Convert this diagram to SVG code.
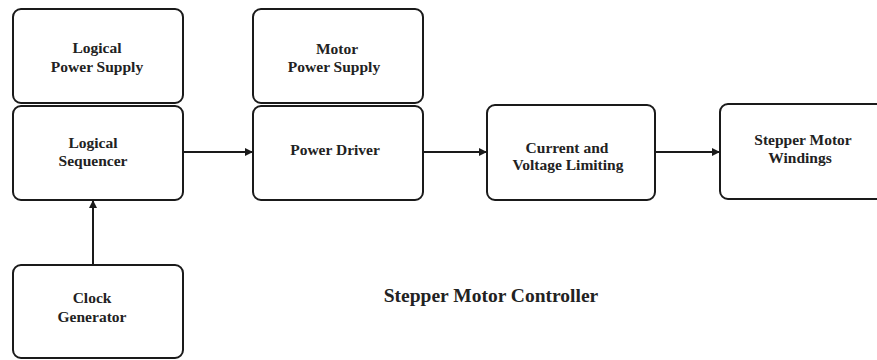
<svg xmlns="http://www.w3.org/2000/svg" width="877" height="360" viewBox="0 0 877 360">
<style>
.box{fill:#fff;stroke:#1a1a1a;stroke-width:2}
.c{stroke:#1a1a1a;stroke-width:2;fill:none;marker-end:url(#ah)}
</style>
<defs>
<marker id="ah" viewBox="0 0 10 10" refX="10" refY="5" markerWidth="4" markerHeight="4" orient="auto" markerUnits="strokeWidth">
<path d="M0,0 L10,5 L0,10 z" fill="#1a1a1a"/>
</marker>
</defs>
<rect width="877" height="360" fill="#fff"/>
<g id="logical-power-supply">
<rect class="box" x="13" y="9" width="170" height="94" rx="8"/>
<text font-family="Liberation Serif" font-weight="bold" font-size="15.5" fill="#222" text-anchor="middle" x="97" y="53">Logical</text>
<text font-family="Liberation Serif" font-weight="bold" font-size="15.5" fill="#222" text-anchor="middle" x="97" y="72">Power Supply</text>
</g>
<g id="logical-sequencer">
<rect class="box" x="13" y="106" width="170" height="94" rx="8"/>
<text font-family="Liberation Serif" font-weight="bold" font-size="15.5" fill="#222" text-anchor="middle" x="93" y="148">Logical</text>
<text font-family="Liberation Serif" font-weight="bold" font-size="15.5" fill="#222" text-anchor="middle" x="93" y="166">Sequencer</text>
</g>
<g id="motor-power-supply">
<rect class="box" x="253" y="9" width="170" height="94" rx="8"/>
<text font-family="Liberation Serif" font-weight="bold" font-size="15.5" fill="#222" text-anchor="middle" x="337" y="54">Motor</text>
<text font-family="Liberation Serif" font-weight="bold" font-size="15.5" fill="#222" text-anchor="middle" x="334" y="72">Power Supply</text>
</g>
<g id="power-driver">
<rect class="box" x="253" y="106" width="170" height="94" rx="8"/>
<text font-family="Liberation Serif" font-weight="bold" font-size="15.5" fill="#222" text-anchor="middle" x="335" y="155">Power Driver</text>
</g>
<g id="current-voltage-limiting">
<rect class="box" x="487" y="105" width="168" height="95" rx="8"/>
<text font-family="Liberation Serif" font-weight="bold" font-size="15.5" fill="#222" text-anchor="middle" x="567" y="153">Current and</text>
<text font-family="Liberation Serif" font-weight="bold" font-size="15.5" fill="#222" text-anchor="middle" x="568" y="170">Voltage Limiting</text>
</g>
<g id="stepper-motor-windings">
<rect class="box" x="720" y="104" width="175" height="95" rx="8"/>
<text font-family="Liberation Serif" font-weight="bold" font-size="15.5" fill="#222" text-anchor="middle" x="803" y="145">Stepper Motor</text>
<text font-family="Liberation Serif" font-weight="bold" font-size="15.5" fill="#222" text-anchor="middle" x="800" y="163">Windings</text>
</g>
<g id="clock-generator">
<rect class="box" x="13" y="265" width="170" height="93" rx="8"/>
<text font-family="Liberation Serif" font-weight="bold" font-size="15.5" fill="#222" text-anchor="middle" x="92" y="303">Clock</text>
<text font-family="Liberation Serif" font-weight="bold" font-size="15.5" fill="#222" text-anchor="middle" x="92" y="322">Generator</text>
</g>
<g id="connectors">
<line class="c" x1="183" y1="152" x2="253" y2="152"/>
<line class="c" x1="423" y1="152" x2="487" y2="152"/>
<line class="c" x1="655" y1="152" x2="720" y2="152"/>
<line class="c" x1="93" y1="265" x2="93" y2="200"/>
</g>
<text font-family="Liberation Serif" font-weight="bold" font-size="19.5" fill="#222" text-anchor="middle" x="491" y="302">Stepper Motor Controller</text>
</svg>
